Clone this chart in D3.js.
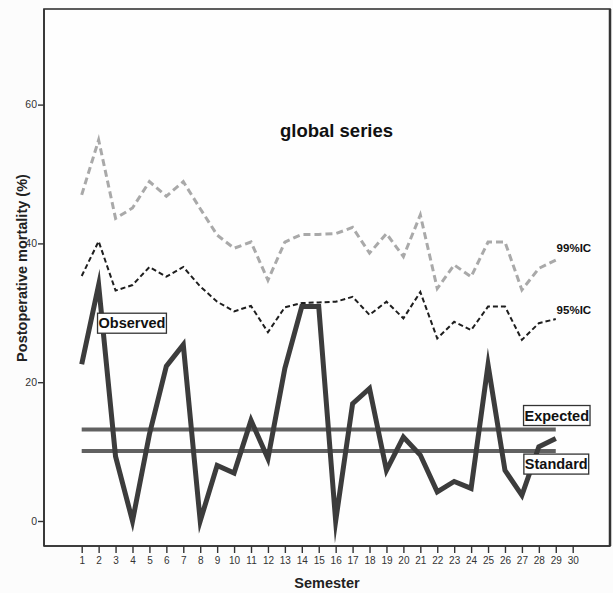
<!DOCTYPE html>
<html><head><meta charset="utf-8">
<script src="https://cdn.jsdelivr.net/npm/d3@7"></script>
<style>
html,body{margin:0;padding:0;background:#fcfcfc;}
svg{display:block;font-family:"Liberation Sans",Arial,sans-serif;}
</style></head>
<body>
<svg id="chart" width="613" height="593"></svg>
<script>
// ---- data ----
const semesters = d3.range(1, 31);
const observed = [22.6,34,9.3,0,12.5,22.3,25.4,0,8.0,6.9,14.5,9.0,22.0,30.9,30.9,0,16.9,19.1,7.3,12.1,9.5,4.2,5.7,4.7,22.5,7.3,3.7,10.7,11.9];
const ci95 = [35.3,40.3,33.2,34.0,36.6,35.2,36.6,33.8,31.6,30.2,31.0,27.2,30.8,31.4,31.5,31.6,32.3,29.7,31.6,29.2,33.0,26.3,28.7,27.5,30.9,30.9,26.1,28.5,29.1];
const ci99 = [47.0,54.9,43.6,45.1,48.9,46.8,48.9,45.0,41.2,39.3,40.2,34.7,40.2,41.3,41.3,41.4,42.3,38.6,41.4,38.1,44.1,33.5,36.9,35.2,40.2,40.2,33.3,36.4,37.6];
const expectedValue = 13.2;
const standardValue = 10.1;
const yTicks = [0, 20, 40, 60];
const seriesLabels = [
  {text: "99%IC", s: 30.07, v: 39.3},
  {text: "95%IC", s: 30.07, v: 30.4}
];
const boxLabels = [
  {text: "Observed", s: 3.97, v: 28.5},
  {text: "Expected", s: 29.06, v: 15.2},
  {text: "Standard", s: 29.03, v: 8.2}
];
const title = {text: "global series", s: 16.05, v: 55.3};

// ---- layout ----
const svg = d3.select("#chart");
const frame = {x0: 44, x1: 610, y0: 9, y1: 546};
const x = d3.scaleLinear().domain([1, 30]).range([81.7, 572.7]);
const y = d3.scaleLinear().domain([0, 60]).range([521, 104.6]);

// plot background
svg.append("rect").attr("x", frame.x0).attr("y", frame.y0)
  .attr("width", frame.x1 - frame.x0).attr("height", frame.y1 - frame.y0)
  .attr("fill", "#fefefe").attr("stroke", "#333").attr("stroke-width", 1.6);
svg.append("line").attr("x1", frame.x1).attr("x2", frame.x1).attr("y1", frame.y0).attr("y2", frame.y1)
  .attr("stroke", "#333").attr("stroke-width", 2.5);

// axes
const yAxis = svg.append("g").attr("transform", `translate(${frame.x0},0)`)
  .call(d3.axisLeft(y).tickValues(yTicks).tickSize(6).tickPadding(1).tickFormat(d3.format("d")));
yAxis.select(".domain").attr("stroke", "#333").attr("stroke-width", 1.6)
  .attr("d", `M0,${frame.y0}V${frame.y1}`);
yAxis.selectAll(".tick line").attr("stroke", "#333").attr("stroke-width", 1.4);
yAxis.selectAll(".tick text").attr("font-size", 10.5).attr("fill", "#333")
  .attr("font-family", "Liberation Sans, Arial, sans-serif");

const xAxis = svg.append("g").attr("transform", `translate(0,${frame.y1})`)
  .call(d3.axisBottom(x).tickValues(semesters).tickSize(7).tickPadding(4).tickFormat(d3.format("d")));
xAxis.select(".domain").attr("stroke", "#333").attr("stroke-width", 1.6)
  .attr("d", `M${frame.x0},0H${frame.x1}`);
xAxis.selectAll(".tick line").attr("stroke", "#333").attr("stroke-width", 1.4);
xAxis.selectAll(".tick text").attr("font-size", 10).attr("fill", "#333")
  .attr("font-family", "Liberation Sans, Arial, sans-serif");

// axis titles
svg.append("text").attr("x", (frame.x0 + frame.x1) / 2).attr("y", 588)
  .attr("text-anchor", "middle").attr("font-weight", "bold").attr("font-size", 14.5)
  .attr("fill", "#222").text("Semester");
svg.append("text").attr("transform", `translate(27,${268}) rotate(-90)`)
  .attr("text-anchor", "middle").attr("font-weight", "bold").attr("font-size", 14.5)
  .attr("fill", "#222").text("Postoperative mortality (%)");

// lines
const line = d3.line().x((d, i) => x(semesters[i])).y(d => y(d));
svg.append("path").datum(ci99).attr("d", line).attr("fill", "none")
  .attr("stroke", "#a9a9a9").attr("stroke-width", 3).attr("stroke-dasharray", "7,4");
svg.append("path").datum(ci95).attr("d", line).attr("fill", "none")
  .attr("stroke", "#1e1e1e").attr("stroke-width", 2).attr("stroke-dasharray", "5,3");

const refLines = [expectedValue, standardValue];
svg.selectAll(".ref").data(refLines).enter().append("line")
  .attr("x1", x(1)).attr("x2", x(29)).attr("y1", d => y(d)).attr("y2", d => y(d))
  .attr("stroke", "#616161").attr("stroke-width", 4);

svg.append("path").datum(observed).attr("d", line).attr("fill", "none")
  .attr("stroke", "#3c3c3c").attr("stroke-width", 5).attr("stroke-linejoin", "miter")
  .attr("stroke-miterlimit", 10);

// title
svg.append("text").attr("x", x(title.s)).attr("y", y(title.v))
  .attr("text-anchor", "middle").attr("font-weight", "bold").attr("font-size", 18.5)
  .attr("fill", "#111").text(title.text);

// series labels
svg.selectAll(".slab").data(seriesLabels).enter().append("text")
  .attr("x", d => x(d.s)).attr("y", d => y(d.v)).attr("dy", "0.35em")
  .attr("text-anchor", "middle").attr("font-weight", "bold").attr("font-size", 11.5)
  .attr("fill", "#111").text(d => d.text);

// boxed labels
const bl = svg.selectAll(".blab").data(boxLabels).enter().append("g");
bl.each(function(d) {
  const g = d3.select(this);
  const t = g.append("text").attr("x", x(d.s)).attr("y", y(d.v)).attr("dy", "0.36em")
    .attr("text-anchor", "middle").attr("font-weight", "bold").attr("font-size", 14.5)
    .attr("fill", "#111").text(d.text);
  const b = t.node().getBBox();
  g.insert("rect", "text").attr("x", b.x - 1).attr("y", y(d.v) - 10)
    .attr("width", b.width + 2).attr("height", 20)
    .attr("fill", "#fff").attr("stroke", "#333").attr("stroke-width", 1.3);
});
</script>
</body></html>
